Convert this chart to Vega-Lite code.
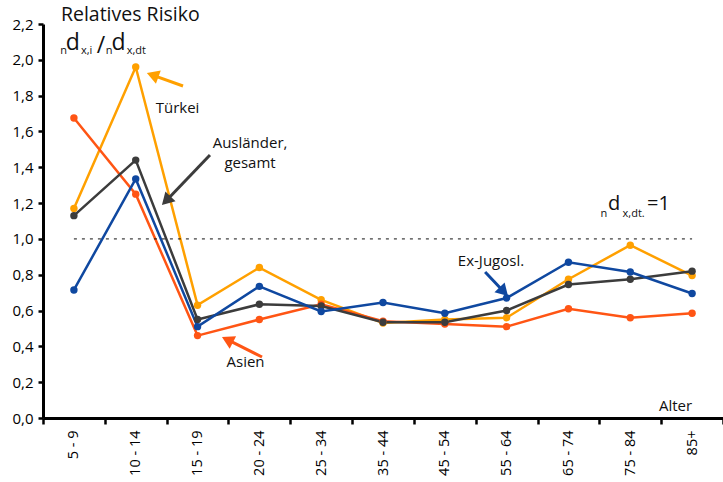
{
  "$schema": "https://vega.github.io/schema/vega-lite/v6.json",
  "width": 680,
  "height": 394,
  "autosize": {"type": "none"},
  "padding": {"left": 43, "top": 24, "right": 0, "bottom": 64},
  "background": "white",
  "config": {"view": {"stroke": null}, "font": "Open Sans"},
  "datasets": {
    "risk": [
      {"alter": "5 - 9", "gruppe": "Türkei", "risiko": 1.17},
      {"alter": "10 - 14", "gruppe": "Türkei", "risiko": 1.96},
      {"alter": "15 - 19", "gruppe": "Türkei", "risiko": 0.63},
      {"alter": "20 - 24", "gruppe": "Türkei", "risiko": 0.84},
      {"alter": "25 - 34", "gruppe": "Türkei", "risiko": 0.66},
      {"alter": "35 - 44", "gruppe": "Türkei", "risiko": 0.53},
      {"alter": "45 - 54", "gruppe": "Türkei", "risiko": 0.55},
      {"alter": "55 - 64", "gruppe": "Türkei", "risiko": 0.56},
      {"alter": "65 - 74", "gruppe": "Türkei", "risiko": 0.775},
      {"alter": "75 - 84", "gruppe": "Türkei", "risiko": 0.965},
      {"alter": "85+", "gruppe": "Türkei", "risiko": 0.795},
      {"alter": "5 - 9", "gruppe": "Asien", "risiko": 1.675},
      {"alter": "10 - 14", "gruppe": "Asien", "risiko": 1.25},
      {"alter": "15 - 19", "gruppe": "Asien", "risiko": 0.46},
      {"alter": "20 - 24", "gruppe": "Asien", "risiko": 0.55},
      {"alter": "25 - 34", "gruppe": "Asien", "risiko": 0.635},
      {"alter": "35 - 44", "gruppe": "Asien", "risiko": 0.54},
      {"alter": "45 - 54", "gruppe": "Asien", "risiko": 0.525},
      {"alter": "55 - 64", "gruppe": "Asien", "risiko": 0.51},
      {"alter": "65 - 74", "gruppe": "Asien", "risiko": 0.61},
      {"alter": "75 - 84", "gruppe": "Asien", "risiko": 0.56},
      {"alter": "85+", "gruppe": "Asien", "risiko": 0.585},
      {"alter": "5 - 9", "gruppe": "Ausländer, gesamt", "risiko": 1.13},
      {"alter": "10 - 14", "gruppe": "Ausländer, gesamt", "risiko": 1.44},
      {"alter": "15 - 19", "gruppe": "Ausländer, gesamt", "risiko": 0.55},
      {"alter": "20 - 24", "gruppe": "Ausländer, gesamt", "risiko": 0.635},
      {"alter": "25 - 34", "gruppe": "Ausländer, gesamt", "risiko": 0.625},
      {"alter": "35 - 44", "gruppe": "Ausländer, gesamt", "risiko": 0.535},
      {"alter": "45 - 54", "gruppe": "Ausländer, gesamt", "risiko": 0.535},
      {"alter": "55 - 64", "gruppe": "Ausländer, gesamt", "risiko": 0.6},
      {"alter": "65 - 74", "gruppe": "Ausländer, gesamt", "risiko": 0.745},
      {"alter": "75 - 84", "gruppe": "Ausländer, gesamt", "risiko": 0.775},
      {"alter": "85+", "gruppe": "Ausländer, gesamt", "risiko": 0.82},
      {"alter": "5 - 9", "gruppe": "Ex-Jugosl.", "risiko": 0.715},
      {"alter": "10 - 14", "gruppe": "Ex-Jugosl.", "risiko": 1.335},
      {"alter": "15 - 19", "gruppe": "Ex-Jugosl.", "risiko": 0.51},
      {"alter": "20 - 24", "gruppe": "Ex-Jugosl.", "risiko": 0.735},
      {"alter": "25 - 34", "gruppe": "Ex-Jugosl.", "risiko": 0.595},
      {"alter": "35 - 44", "gruppe": "Ex-Jugosl.", "risiko": 0.645},
      {"alter": "45 - 54", "gruppe": "Ex-Jugosl.", "risiko": 0.585},
      {"alter": "55 - 64", "gruppe": "Ex-Jugosl.", "risiko": 0.67},
      {"alter": "65 - 74", "gruppe": "Ex-Jugosl.", "risiko": 0.87},
      {"alter": "75 - 84", "gruppe": "Ex-Jugosl.", "risiko": 0.815},
      {"alter": "85+", "gruppe": "Ex-Jugosl.", "risiko": 0.695}
    ],
    "refline": [{"x": 0.5, "x2": 10.5, "y": 1}],
    "arrows": [
      {"gruppe": "Türkei", "x": 2.265, "y": 1.854, "x2": 1.773, "y2": 1.915, "winkel": 290},
      {"gruppe": "Ausländer, gesamt", "x": 2.701, "y": 1.4685, "x2": 1.993, "y2": 1.2133, "winkel": 224},
      {"gruppe": "Ex-Jugosl.", "x": 7.152, "y": 0.8152, "x2": 7.454, "y2": 0.7052, "winkel": 136},
      {"gruppe": "Asien", "x": 3.543, "y": 0.3406, "x2": 2.983, "y2": 0.4372, "winkel": 297}
    ],
    "labels": [
      {"t": "Türkei", "x": 2.176, "y": 1.703},
      {"t": "Ausländer,", "x": 3.349, "y": 1.505},
      {"t": "gesamt", "x": 3.349, "y": 1.398},
      {"t": "Ex-Jugosl.", "x": 7.247, "y": 0.8487},
      {"t": "Asien", "x": 3.276, "y": 0.2848},
      {"t": "Alter", "x": 10.232, "y": 0.0391}
    ],
    "title": [{"t": "Relatives Risiko", "x": 0.29, "y": 2.217}],
    "bigLeft": [
      {"t": "d", "x": 0.37, "y": 2.055},
      {"t": "/", "x": 0.87, "y": 2.038},
      {"t": "d", "x": 1.11, "y": 2.055}
    ],
    "bigRight": [
      {"t": "d", "x": 9.14, "y": 1.161},
      {"t": "=1", "x": 9.77, "y": 1.161}
    ],
    "subs": [
      {"t": "n", "x": 0.28, "y": 2.032},
      {"t": "x,i", "x": 0.615, "y": 2.032},
      {"t": "n", "x": 1.015, "y": 2.032},
      {"t": "x,dt", "x": 1.355, "y": 2.032},
      {"t": "n", "x": 9.02, "y": 1.122},
      {"t": "x,dt.", "x": 9.375, "y": 1.122}
    ]
  },
  "resolve": {"scale": {"x": "independent"}, "axis": {"x": "independent", "y": "independent"}},
  "layer": [
    {
      "data": {"name": "risk"},
      "mark": {"type": "line", "strokeWidth": 2.5, "point": {"filled": true, "size": 55, "opacity": 1}},
      "encoding": {
        "x": {
          "field": "alter", "type": "nominal",
          "sort": ["5 - 9", "10 - 14", "15 - 19", "20 - 24", "25 - 34", "35 - 44", "45 - 54", "55 - 64", "65 - 74", "75 - 84", "85+"],
          "bandPosition": 0.5,
          "scale": {"type": "band", "paddingInner": 0, "paddingOuter": 0},
          "axis": {
            "title": null, "labelAngle": -90, "labelFontSize": 14.5, "labelColor": "#000",
            "labelPadding": 6, "tickBand": "extent", "tickSize": 6, "tickWidth": 2.5,
            "tickColor": "#000", "domainColor": "#000", "domainWidth": 3, "grid": false
          }
        },
        "y": {
          "field": "risiko", "type": "quantitative",
          "scale": {"domain": [0, 2.2], "nice": false, "zero": true},
          "axis": {
            "title": null, "values": [0, 0.2, 0.4, 0.6, 0.8, 1.0, 1.2, 1.4, 1.6, 1.8, 2.0, 2.2],
            "labelExpr": "replace(format(datum.value, '.1f'), '.', ',')",
            "labelOverlap": false, "labelBound": false, "labelFlush": false,
            "labelFontSize": 15, "labelColor": "#000", "labelPadding": 5,
            "tickSize": 5, "tickWidth": 2.5, "tickColor": "#000",
            "domainColor": "#000", "domainWidth": 3, "grid": false
          }
        },
        "color": {
          "field": "gruppe", "type": "nominal", "legend": null,
          "scale": {"domain": ["Türkei", "Asien", "Ausländer, gesamt", "Ex-Jugosl."], "range": ["#FFA000", "#FF5514", "#3C3C3C", "#0F48A0"]}
        }
      }
    },
    {
      "data": {"name": "refline"},
      "mark": {"type": "rule", "strokeDash": [3, 5], "strokeWidth": 1, "color": "#111"},
      "encoding": {
        "x": {"field": "x", "type": "quantitative", "scale": {"domain": [0, 11], "nice": false, "zero": false}, "axis": null},
        "x2": {"field": "x2"},
        "y": {"field": "y", "type": "quantitative", "axis": null}
      }
    },
    {
      "data": {"name": "arrows"},
      "mark": {"type": "rule", "strokeWidth": 3},
      "encoding": {
        "x": {"field": "x", "type": "quantitative", "scale": {"domain": [0, 11], "nice": false, "zero": false}, "axis": null},
        "x2": {"field": "x2"},
        "y": {"field": "y", "type": "quantitative", "axis": null},
        "y2": {"field": "y2"},
        "color": {"field": "gruppe", "type": "nominal", "legend": null}
      }
    },
    {
      "data": {"name": "arrows"},
      "mark": {"type": "point", "shape": "triangle-up", "filled": true, "size": 200, "opacity": 1},
      "encoding": {
        "x": {"field": "x2", "type": "quantitative", "scale": {"domain": [0, 11], "nice": false, "zero": false}, "axis": null},
        "y": {"field": "y2", "type": "quantitative", "axis": null},
        "angle": {"field": "winkel", "type": "quantitative", "scale": null},
        "color": {"field": "gruppe", "type": "nominal", "legend": null}
      }
    },
    {
      "data": {"name": "labels"},
      "mark": {"type": "text", "fontSize": 15, "align": "center", "baseline": "alphabetic", "color": "#111"},
      "encoding": {
        "x": {"field": "x", "type": "quantitative", "scale": {"domain": [0, 11], "nice": false, "zero": false}, "axis": null},
        "y": {"field": "y", "type": "quantitative", "axis": null},
        "text": {"field": "t"}
      }
    },
    {
      "data": {"name": "title"},
      "mark": {"type": "text", "fontSize": 19.5, "align": "left", "baseline": "alphabetic", "color": "#111"},
      "encoding": {
        "x": {"field": "x", "type": "quantitative", "scale": {"domain": [0, 11], "nice": false, "zero": false}, "axis": null},
        "y": {"field": "y", "type": "quantitative", "axis": null},
        "text": {"field": "t"}
      }
    },
    {
      "data": {"name": "bigLeft"},
      "mark": {"type": "text", "fontSize": 23, "align": "left", "baseline": "alphabetic", "color": "#111"},
      "encoding": {
        "x": {"field": "x", "type": "quantitative", "scale": {"domain": [0, 11], "nice": false, "zero": false}, "axis": null},
        "y": {"field": "y", "type": "quantitative", "axis": null},
        "text": {"field": "t"}
      }
    },
    {
      "data": {"name": "bigRight"},
      "mark": {"type": "text", "fontSize": 20, "align": "left", "baseline": "alphabetic", "color": "#111"},
      "encoding": {
        "x": {"field": "x", "type": "quantitative", "scale": {"domain": [0, 11], "nice": false, "zero": false}, "axis": null},
        "y": {"field": "y", "type": "quantitative", "axis": null},
        "text": {"field": "t"}
      }
    },
    {
      "data": {"name": "subs"},
      "mark": {"type": "text", "fontSize": 11, "align": "left", "baseline": "alphabetic", "color": "#111"},
      "encoding": {
        "x": {"field": "x", "type": "quantitative", "scale": {"domain": [0, 11], "nice": false, "zero": false}, "axis": null},
        "y": {"field": "y", "type": "quantitative", "axis": null},
        "text": {"field": "t"}
      }
    }
  ]
}
